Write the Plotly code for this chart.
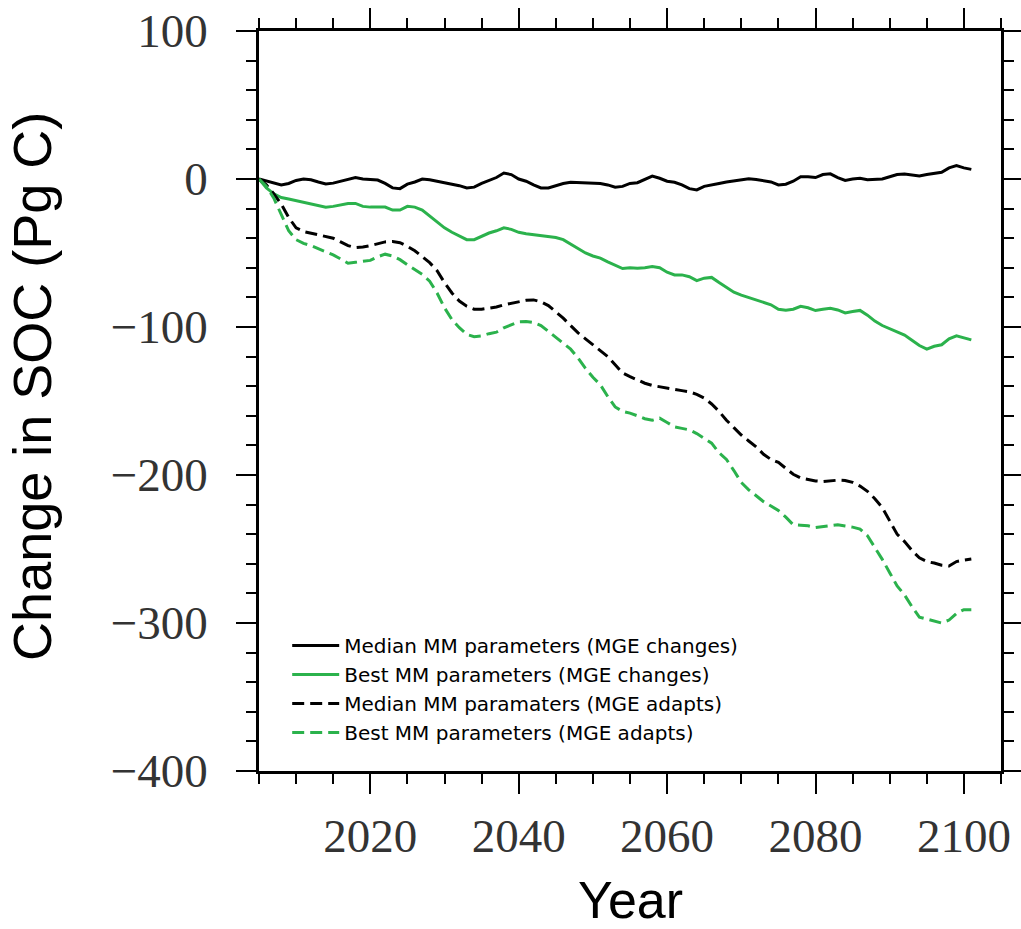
import plotly.graph_objects as go

years = list(range(2005, 2102))

median_changes = [0, -1.5, -3, -4, -3, -1, 0, -0.5, -2, -3.3, -2.8, -1.5, 0, 1, 0, -0.5, -0.7, -3, -6, -6.5,
                  -3.5, -2, 0, -0.5, -1.5, -2.5, -3, -4.5, -6, -5.5, -3, -1, 1, 4, 3, 0, -1.5, -4, -6, -6,
                  -4.5, -3, -2.2, -2.5, -2.5, -3, -3, -4, -5.5, -5, -3, -2.5, -0.5, 2, 0.5, -1.5, -2.2, -4, -6.5, -7.4,
                  -5, -3.8, -3, -2, -1.2, -0.5, 0.2, -0.3, -1, -2, -4, -3.5, -1.5, 1.5, 1.5, 1, 3, 3.5, 1, -1,
                  0, 0.5, -0.5, -0.5, 0, 1.5, 3, 3.4, 2.5, 2, 3, 3.8, 4.5, 7.5, 9, 7.5, 6.5]

best_changes = [0, -6, -10, -12.5, -13.5, -14.5, -15.5, -16.5, -17.5, -19, -18.5, -17.5, -16.5, -16.5, -18.5, -19, -19, -19, -21, -21,
                -18.5, -19, -21, -25, -29, -33, -36, -38.5, -41, -41, -38.5, -36.5, -35, -33, -34, -36, -37, -37.5, -38.5, -39,
                -39.5, -41, -44, -47.5, -50, -52, -53.5, -56, -58.5, -60.5, -60, -60.3, -60, -59.2, -60, -63, -64.8, -64.8, -66, -68.7,
                -67, -66.5, -70, -73, -76.5, -78.5, -80, -81.5, -83, -85, -88, -88.7, -88, -86, -87, -88.9, -88, -87.3, -88.5, -90.5,
                -89.5, -88.8, -92, -96, -99, -101, -103, -105.5, -109, -112.5, -115, -113, -112, -108, -106, -107.5, -108.7]

median_adapts = [0, -4, -10, -17, -26, -33, -35.5, -36.5, -37.5, -38.5, -40, -42.5, -45, -46.4, -46, -45, -44, -42.5, -42.3, -43,
                 -45.5, -48.5, -52.5, -56.5, -62, -70, -77, -82.5, -86, -88, -88, -87.5, -86.5, -85, -84, -83, -82, -81.7, -83, -85.5,
                 -89.5, -94, -99, -104, -108, -112, -116, -120, -125.5, -131, -133.5, -136, -138, -139.5, -140.5, -141, -142, -143, -143.8, -145.5,
                 -148, -152, -157, -163, -168, -173, -177, -181, -186, -189.5, -191.5, -195.5, -199.5, -202, -203.2, -204, -204.4, -204, -203.5, -203.7,
                 -205, -207.5, -211, -216, -222, -231, -240, -245, -251, -256, -258.5, -259.5, -261, -261.5, -258.5, -257.5, -256.8]

best_adapts = [0, -5, -13, -24, -35, -41, -43.5, -45, -47, -49, -51.3, -54, -56.9, -56.3, -55.5, -55, -52.5, -50.8, -52, -54.5,
               -58, -61.5, -64.5, -69, -77, -87, -95, -100.5, -105, -106.5, -106, -104.5, -103.5, -100.5, -98.5, -96.5, -96.3, -97, -99, -103,
               -106.5, -110.5, -115, -121, -128, -134, -139, -147, -154, -157, -158.2, -160, -162, -163, -161.6, -164.5, -167.5, -168.5, -169.5, -172,
               -175, -178.5, -185, -189.5, -197, -205, -210, -214, -218, -221, -224, -228.5, -233.6, -234, -234.3, -235.5, -235, -234, -233.6, -234.5,
               -235.2, -236.5, -241, -249, -257, -266, -275, -281, -289, -296, -297.3, -298.5, -300, -298, -293.5, -291, -291]

names = ["Median MM parameters (MGE changes)", "Best MM parameters (MGE changes)",
         "Median MM paramaters (MGE adapts)", "Best MM parameters (MGE adapts)"]

GREEN = "#2bb24c"
BLACK = "#000000"

fig = go.Figure()
series = [median_changes, best_changes, median_adapts, best_adapts]
colors = [BLACK, GREEN, BLACK, GREEN]
dashes = ["solid", "solid", "12px,6px", "12px,6px"]
for vals, nm, c, d in zip(series, names, colors, dashes):
    fig.add_trace(go.Scatter(x=years, y=vals, mode="lines", name=nm,
                             line=dict(color=c, width=3, dash=d)))

tickfont = dict(family="Liberation Serif", size=47, color="#333")
fig.update_xaxes(range=[2005, 2105], tickmode="array", tickvals=[2020, 2040, 2060, 2080, 2100],
                 ticks="outside", ticklen=20, tickwidth=2, tickcolor="black",
                 minor=dict(dtick=5, tick0=2005, ticklen=10, tickwidth=1.5, tickcolor="black", ticks="outside"),
                 showline=True, linecolor="black", linewidth=2.5, mirror="allticks", automargin=False,
                 showgrid=False, zeroline=False, tickfont=tickfont, ticklabelstandoff=2)
fig.update_yaxes(range=[-400, 100], tickmode="array", tickvals=[-400, -300, -200, -100, 0, 100],
                 ticks="outside", ticklen=20, tickwidth=2, tickcolor="black",
                 minor=dict(dtick=20, tick0=0, ticklen=10, tickwidth=1.5, tickcolor="black", ticks="outside"),
                 showline=True, linecolor="black", linewidth=2.5, mirror="allticks", automargin=False,
                 showgrid=False, zeroline=False, tickfont=tickfont, ticklabelstandoff=19)

fig.update_layout(
    width=1021, height=929,
    margin=dict(l=259, r=20, t=31, b=158, autoexpand=False),
    plot_bgcolor="white", paper_bgcolor="white",
    showlegend=True,
    legend=dict(x=0.038, y=0.196, xanchor="left", yanchor="top",
                bgcolor="rgba(0,0,0,0)", font=dict(family="DejaVu Sans", size=20, color="black"),
                itemwidth=47, tracegroupgap=0),
    annotations=[
        dict(text="Change in SOC (Pg C)", xref="paper", yref="paper", x=-0.305, y=0.52,
             textangle=-90, showarrow=False, font=dict(family="Liberation Sans", size=54, color="black"),
             xanchor="center", yanchor="middle"),
        dict(text="Year", xref="paper", yref="paper", x=0.5, y=-0.174,
             showarrow=False, font=dict(family="Liberation Sans", size=52, color="black"),
             xanchor="center", yanchor="middle"),
    ],
)

fig.write_html("out.html", config={"displayModeBar": False},
               post_script="document.body.style.margin='0';document.body.style.overflow='hidden';")
